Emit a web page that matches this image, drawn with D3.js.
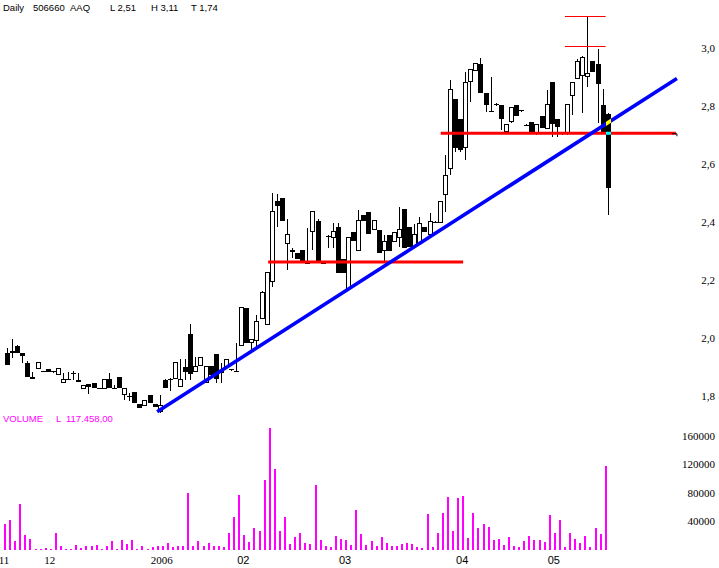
<!DOCTYPE html>
<html><head><meta charset="utf-8">
<script src="https://cdn.jsdelivr.net/npm/d3@7"></script>
<style>body{margin:0;background:#fff;} svg{display:block;}</style>
</head><body><svg id="c" width="719" height="568"></svg>
<script>
const openP  = [1.946,1.955,1.973,1.946,1.912,1.866,1.892,1.884,1.891,1.884,1.871,1.845,1.858,1.877,1.854,1.822,1.840,1.845,1.826,1.824,1.857,1.827,1.866,1.802,1.800,1.814,1.771,1.765,1.802,1.771,1.745,1.854,1.857,1.856,1.831,1.900,2.013,1.881,1.902,1.843,1.902,1.944,1.889,1.900,1.892,1.886,1.971,2.102,1.981,1.990,2.063,2.043,2.191,2.471,2.481,2.322,2.302,2.293,2.302,2.257,2.363,2.402,2.257,2.352,2.343,2.381,2.270,2.168,2.363,2.300,2.423,2.432,2.371,2.371,2.300,2.354,2.331,2.343,2.444,2.381,2.312,2.323,2.381,2.354,2.400,2.394,2.492,2.580,2.822,2.754,2.653,2.881,2.921,2.944,2.845,2.782,2.807,2.802,2.710,2.743,2.802,2.784,2.734,2.745,2.701,2.764,2.720,2.881,2.753,2.708,2.701,2.833,2.891,2.902,2.900,2.954,2.944,2.802,2.770];
const highP  = [1.963,1.994,1.975,1.948,1.918,1.883,1.915,1.886,1.891,1.886,1.894,1.877,1.883,1.885,1.877,1.837,1.840,1.845,1.827,1.857,1.877,1.837,1.866,1.826,1.808,1.814,1.771,1.785,1.802,1.771,1.802,1.856,1.860,1.915,1.925,1.925,2.047,1.935,1.935,1.904,1.902,1.944,1.912,1.927,1.893,1.981,2.105,2.102,1.994,2.078,2.162,2.225,2.498,2.496,2.481,2.408,2.308,2.293,2.302,2.377,2.437,2.408,2.258,2.355,2.397,2.397,2.270,2.346,2.363,2.440,2.423,2.432,2.406,2.371,2.354,2.354,2.366,2.452,2.444,2.381,2.392,2.415,2.381,2.429,2.401,2.473,2.630,2.889,2.822,2.754,2.917,2.925,2.946,2.963,2.845,2.900,2.810,2.802,2.737,2.794,2.802,2.786,2.737,2.745,2.737,2.764,2.854,2.881,2.753,2.710,2.805,2.883,2.960,2.970,3.109,2.954,2.995,2.857,2.774];
const lowP   = [1.906,1.929,1.946,1.912,1.866,1.857,1.892,1.881,1.883,1.880,1.871,1.845,1.854,1.854,1.846,1.822,1.806,1.826,1.824,1.824,1.826,1.822,1.826,1.785,1.783,1.774,1.757,1.765,1.774,1.760,1.740,1.825,1.815,1.856,1.831,1.854,1.854,1.881,1.902,1.843,1.871,1.843,1.843,1.900,1.886,1.884,1.971,1.983,1.946,1.969,2.063,2.043,2.176,2.383,2.404,2.233,2.274,2.271,2.262,2.254,2.302,2.256,2.253,2.308,2.308,2.224,2.224,2.168,2.333,2.300,2.404,2.356,2.371,2.293,2.259,2.300,2.331,2.314,2.308,2.314,2.308,2.323,2.366,2.354,2.397,2.394,2.435,2.560,2.640,2.640,2.613,2.814,2.921,2.845,2.779,2.779,2.800,2.716,2.710,2.740,2.766,2.780,2.730,2.705,2.700,2.722,2.720,2.693,2.691,2.700,2.700,2.768,2.891,2.774,2.866,2.917,2.740,2.705,2.423];
const closeP = [1.906,1.946,1.946,1.937,1.866,1.857,1.915,1.882,1.883,1.883,1.894,1.857,1.856,1.876,1.846,1.837,1.831,1.826,1.825,1.857,1.826,1.826,1.826,1.826,1.799,1.774,1.757,1.785,1.774,1.760,1.768,1.825,1.856,1.915,1.856,1.883,1.874,1.904,1.935,1.904,1.871,1.856,1.880,1.927,1.887,1.884,2.105,1.983,1.994,2.056,2.158,2.225,2.436,2.455,2.404,2.358,2.294,2.271,2.264,2.255,2.437,2.256,2.254,2.348,2.368,2.224,2.224,2.346,2.333,2.406,2.404,2.356,2.406,2.293,2.333,2.300,2.366,2.374,2.308,2.314,2.358,2.394,2.366,2.404,2.398,2.473,2.560,2.856,2.655,2.647,2.883,2.925,2.946,2.845,2.802,2.780,2.805,2.754,2.737,2.794,2.766,2.782,2.733,2.705,2.737,2.722,2.805,2.737,2.726,2.705,2.805,2.883,2.955,2.967,2.914,2.917,2.874,2.705,2.515];
const volumes = [36500,42000,12600,64500,21000,15400,1400,1400,2800,1400,23800,6000,1800,1800,7000,2400,4700,4700,7000,1800,6000,12600,1800,14000,8400,14000,1800,4700,1800,3300,4700,6000,9300,3300,4700,6000,80000,4700,12600,4700,9300,4700,4700,3300,23800,46500,77500,21000,11200,30800,26000,98000,171000,113500,26600,46500,8400,18200,23800,9800,8400,91000,14000,5600,4200,19600,15400,14000,7000,56000,22400,7000,12200,5600,18200,9800,5600,5600,8400,9800,8400,4200,2800,50400,4200,23800,51800,74200,26600,72800,75600,16800,51800,30800,36400,32200,14000,15400,7000,18200,5600,4200,12600,19600,14000,14000,11200,49000,23800,42000,4200,23800,15400,9800,19600,4200,30800,22400,117458];

const xTickIndex  = [0, 9, 31, 47, 67, 90, 108];
const xTickLabels = ["11", "12", "2006", "02", "03", "04", "05"];
const priceTicks  = [1.8, 2.0, 2.2, 2.4, 2.6, 2.8, 3.0];
const volumeTicks = [40000, 80000, 120000, 160000];

// drawn lines: [index, price] pairs
const trendLine   = [[29.5, 1.745], [131.6, 2.894]];
const supportHigh = [[85.2, 2.705], [131.4, 2.705]];
const supportLow  = [[51.3, 2.261], [89.6, 2.261]];
const peakMarks   = [3.109, 3.006];
const peakMarkSpan = [109.6, 117.6];

const headerTexts = ["Daily", "506660", "AAQ", "L 2,51", "H 3,11", "T 1,74"];
const volumeTexts = ["VOLUME", "L", "117.458,00"];

const svg = d3.select("#c");
const n = closeP.length;
const x = d3.scaleLinear().domain([0, n - 1]).range([7, 607.7]);
const y = d3.scaleLinear().domain([1.8, 3.0]).range([395.7, 47.7]);
const yv = d3.scaleLinear().domain([0, 160000]).range([549.8, 435.7]);

svg.append("rect").attr("width", 719).attr("height", 568).attr("fill", "#fff");

// header
const hx = [3, 33, 70, 110, 151, 191];
svg.append("g").selectAll("text").data(headerTexts).join("text")
  .attr("x", (d, i) => hx[i]).attr("y", 11)
  .attr("font-family", "Liberation Sans, Arial, sans-serif").attr("font-size", 9.5)
  .attr("fill", "#000").text(d => d);

// volume header
const vx = [3, 56, 66];
svg.append("g").selectAll("text").data(volumeTexts).join("text")
  .attr("x", (d, i) => vx[i]).attr("y", 422)
  .attr("font-family", "Liberation Sans, Arial, sans-serif").attr("font-size", 9.5)
  .attr("fill", "#ff00ff").text(d => d);

// volume bars
svg.append("g").selectAll("rect").data(volumes).join("rect")
  .attr("x", (d, i) => Math.round(x(i)) - 3)
  .attr("width", 2)
  .attr("y", d => Math.round(yv(d)))
  .attr("height", d => Math.max(1, 550 - Math.round(yv(d))))
  .attr("fill", "#ff00ff");

// candles
const gC = svg.append("g");
function drawCandle(g, i) {
  const cx = Math.round(x(i));
  const a = cx - 2;
  const o = openP[i], c = closeP[i], h = highP[i], l = lowP[i];
  const yh = Math.round(y(h)), yl = Math.round(y(l));
  const top = Math.round(y(Math.max(o, c))), bot = Math.round(y(Math.min(o, c)));
  g.append("line").attr("x1", cx + 0.5).attr("x2", cx + 0.5)
    .attr("y1", yh).attr("y2", Math.max(yl, yh + 1)).attr("stroke", "#000").attr("stroke-width", 1);
  if (bot - top < 2) {
    g.append("rect").attr("x", a).attr("y", top).attr("width", 5).attr("height", 1).attr("fill", "#000");
  } else if (c >= o) {
    g.append("rect").attr("x", a + 0.5).attr("y", top + 0.5).attr("width", 4).attr("height", bot - top - 1)
      .attr("fill", "#fff").attr("stroke", "#000").attr("stroke-width", 1);
  } else {
    g.append("rect").attr("x", a).attr("y", top).attr("width", 5).attr("height", bot - top).attr("fill", "#000");
  }
  return {a, top, bot};
}
for (let i = 0; i < n - 1; i++) drawCandle(gC, i);

// lines
const line = d3.line().x(d => x(d[0])).y(d => y(d[1]));
svg.append("path").attr("d", line(supportLow)).attr("stroke", "#ff0000").attr("stroke-width", 3).attr("fill", "none");
svg.append("path").attr("d", line(supportHigh)).attr("stroke", "#ff0000").attr("stroke-width", 3).attr("fill", "none");
svg.append("path").attr("d", line(trendLine)).attr("stroke", "#0000ff").attr("stroke-width", 3.6).attr("fill", "none");
svg.append("g").selectAll("line").data(peakMarks).join("line")
  .attr("x1", x(peakMarkSpan[0])).attr("x2", x(peakMarkSpan[1]))
  .attr("y1", d => Math.round(y(d)) + 0.5).attr("y2", d => Math.round(y(d)) + 0.5)
  .attr("stroke", "#ff0000").attr("stroke-width", 1);

// small arrow tip at the end of the upper support line
const tipX = x(supportHigh[1][0]), tipY = y(supportHigh[1][1]);
svg.append("path").attr("d", `M${tipX - 4},${tipY + 0.5} L${tipX + 1},${tipY + 0.5} L${tipX + 1},${tipY + 3}`)
  .attr("stroke", "#000").attr("stroke-width", 1).attr("fill", "none");

// last candle drawn on top, with xor-like crossings
const gL = svg.append("g");
const last = drawCandle(gL, n - 1);
svg.append("clipPath").attr("id", "lastBody").append("rect")
  .attr("x", last.a).attr("y", last.top).attr("width", 5).attr("height", last.bot - last.top);
const gx = svg.append("g").attr("clip-path", "url(#lastBody)");
gx.append("path").attr("d", line(trendLine)).attr("stroke", "#ffff00").attr("stroke-width", 3.6).attr("fill", "none");
gx.append("path").attr("d", line(supportHigh)).attr("stroke", "#00ffff").attr("stroke-width", 3).attr("fill", "none");

// price axis labels
svg.append("g").selectAll("text").data(priceTicks).join("text")
  .attr("x", 715).attr("y", d => y(d) + 4).attr("text-anchor", "end")
  .attr("font-family", "Liberation Serif, Times New Roman, serif").attr("font-size", 11)
  .attr("fill", "#000").text(d => d3.format(".1f")(d).replace(".", ","));

// volume axis labels
svg.append("g").selectAll("text").data(volumeTicks).join("text")
  .attr("x", 715).attr("y", d => yv(d) + 4).attr("text-anchor", "end")
  .attr("font-family", "Liberation Serif, Times New Roman, serif").attr("font-size", 11)
  .attr("fill", "#000").text(d => String(d));

// x labels
svg.append("g").selectAll("text").data(xTickIndex).join("text")
  .attr("x", d => x(d) - 3).attr("y", 564).attr("text-anchor", "middle")
  .attr("font-family", (d, i) => xTickLabels[i].length === 2 && xTickLabels[i][0] === "0" ? "Liberation Sans, Arial, sans-serif" : "Liberation Serif, Times New Roman, serif")
  .attr("font-size", 11)
  .attr("fill", "#000").text((d, i) => xTickLabels[i]);
</script></body></html>
